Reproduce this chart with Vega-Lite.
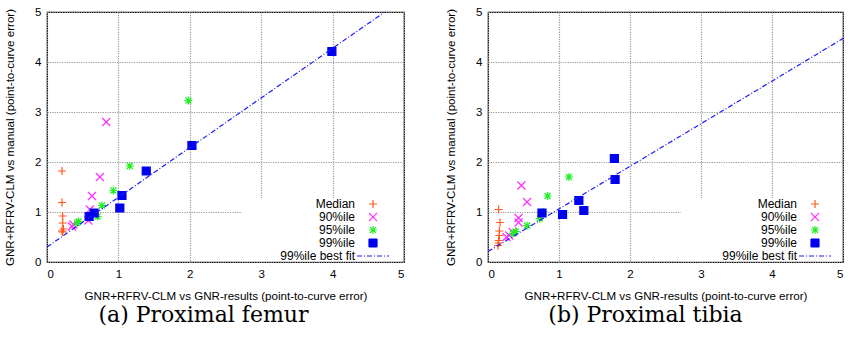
{
  "$schema": "https://vega.github.io/schema/vega-lite/v6.json",
  "padding": {"left": 4, "top": 5, "right": 0, "bottom": 0},
  "background": "white",
  "config": {
    "font": "Liberation Sans",
    "view": {"stroke": "black", "strokeWidth": 1.2},
    "axis": {
      "grid": true, "gridColor": "#999999", "gridDash": [1.2, 1.2], "gridWidth": 1.2,
      "domain": false, "ticks": false,
      "labelFont": "Liberation Sans", "labelFontSize": 11.5, "labelColor": "black",
      "titleFont": "Liberation Sans", "titleFontSize": 11.6, "titleFontWeight": "normal", "titleColor": "black"
    },
    "axisX": {"labelPadding": 6, "titlePadding": 11},
    "axisY": {"labelPadding": 6, "titlePadding": 19},
    "legend": {
      "title": null, "orient": "none", "labelAlign": "right", "labelOffset": -24,
      "labelFont": "Liberation Sans", "labelFontSize": 12, "labelColor": "black",
      "rowPadding": -3, "symbolStrokeWidth": 1.2, "symbolSize": 64, "symbolOpacity": 1
    }
  },
  "datasets": {
    "femur": [
      {"gnr": 0.21, "manual": 1.82, "series": "Median"},
      {"gnr": 0.21, "manual": 1.19, "series": "Median"},
      {"gnr": 0.22, "manual": 0.92, "series": "Median"},
      {"gnr": 0.22, "manual": 0.78, "series": "Median"},
      {"gnr": 0.23, "manual": 0.66, "series": "Median"},
      {"gnr": 0.22, "manual": 0.60, "series": "Median"},
      {"gnr": 0.21, "manual": 0.62, "series": "Median"},
      {"gnr": 0.83, "manual": 2.80, "series": "90%ile"},
      {"gnr": 0.74, "manual": 1.70, "series": "90%ile"},
      {"gnr": 0.63, "manual": 1.32, "series": "90%ile"},
      {"gnr": 0.60, "manual": 1.05, "series": "90%ile"},
      {"gnr": 0.58, "manual": 0.83, "series": "90%ile"},
      {"gnr": 0.37, "manual": 0.75, "series": "90%ile"},
      {"gnr": 0.35, "manual": 0.71, "series": "90%ile"},
      {"gnr": 1.98, "manual": 3.23, "series": "95%ile"},
      {"gnr": 1.16, "manual": 1.92, "series": "95%ile"},
      {"gnr": 0.93, "manual": 1.43, "series": "95%ile"},
      {"gnr": 0.77, "manual": 1.13, "series": "95%ile"},
      {"gnr": 0.71, "manual": 0.91, "series": "95%ile"},
      {"gnr": 0.44, "manual": 0.81, "series": "95%ile"},
      {"gnr": 0.42, "manual": 0.78, "series": "95%ile"},
      {"gnr": 3.99, "manual": 4.21, "series": "99%ile"},
      {"gnr": 2.03, "manual": 2.33, "series": "99%ile"},
      {"gnr": 1.39, "manual": 1.82, "series": "99%ile"},
      {"gnr": 1.05, "manual": 1.33, "series": "99%ile"},
      {"gnr": 1.02, "manual": 1.08, "series": "99%ile"},
      {"gnr": 0.66, "manual": 0.98, "series": "99%ile"},
      {"gnr": 0.59, "manual": 0.91, "series": "99%ile"}
    ],
    "femurFit": [
      {"gnr": 0, "manual": 0.30, "series": "99%ile best fit"},
      {"gnr": 4.73, "manual": 5.0, "series": "99%ile best fit"}
    ],
    "tibia": [
      {"gnr": 0.15, "manual": 1.05, "series": "Median"},
      {"gnr": 0.17, "manual": 0.79, "series": "Median"},
      {"gnr": 0.16, "manual": 0.62, "series": "Median"},
      {"gnr": 0.16, "manual": 0.53, "series": "Median"},
      {"gnr": 0.15, "manual": 0.43, "series": "Median"},
      {"gnr": 0.14, "manual": 0.33, "series": "Median"},
      {"gnr": 0.15, "manual": 0.38, "series": "Median"},
      {"gnr": 0.47, "manual": 1.53, "series": "90%ile"},
      {"gnr": 0.55, "manual": 1.20, "series": "90%ile"},
      {"gnr": 0.43, "manual": 0.88, "series": "90%ile"},
      {"gnr": 0.43, "manual": 0.79, "series": "90%ile"},
      {"gnr": 0.35, "manual": 0.60, "series": "90%ile"},
      {"gnr": 0.26, "manual": 0.50, "series": "90%ile"},
      {"gnr": 0.30, "manual": 0.53, "series": "90%ile"},
      {"gnr": 1.14, "manual": 1.70, "series": "95%ile"},
      {"gnr": 0.84, "manual": 1.32, "series": "95%ile"},
      {"gnr": 0.78, "manual": 1.00, "series": "95%ile"},
      {"gnr": 0.73, "manual": 0.87, "series": "95%ile"},
      {"gnr": 0.55, "manual": 0.73, "series": "95%ile"},
      {"gnr": 0.39, "manual": 0.61, "series": "95%ile"},
      {"gnr": 0.35, "manual": 0.57, "series": "95%ile"},
      {"gnr": 1.78, "manual": 2.07, "series": "99%ile"},
      {"gnr": 1.79, "manual": 1.65, "series": "99%ile"},
      {"gnr": 1.28, "manual": 1.23, "series": "99%ile"},
      {"gnr": 1.35, "manual": 1.03, "series": "99%ile"},
      {"gnr": 1.05, "manual": 0.95, "series": "99%ile"},
      {"gnr": 0.76, "manual": 0.98, "series": "99%ile"}
    ],
    "tibiaFit": [
      {"gnr": 0, "manual": 0.21, "series": "99%ile best fit"},
      {"gnr": 5, "manual": 4.47, "series": "99%ile best fit"}
    ],
    "keybox": [{"box": "key"}]
  },
  "spacing": 40,
  "resolve": {
    "scale": {"shape": "independent", "stroke": "independent", "fill": "independent", "strokeDash": "independent"},
    "legend": {"shape": "independent", "stroke": "independent", "fill": "independent", "strokeDash": "independent"}
  },
  "hconcat": [
    {
      "width": 357, "height": 250,
      "title": {"text": "(a) Proximal femur", "orient": "bottom", "font": "DejaVu Serif", "fontSize": 22, "fontWeight": "normal", "color": "black", "offset": 3, "dx": -22},
      "layer": [
        {
          "data": {"name": "keybox"},
          "mark": {"type": "rect", "fill": "white", "stroke": null},
          "encoding": {
            "x": {"datum": 2.72, "type": "quantitative", "scale": {"domain": [0, 5]}, "title": "GNR+RFRV-CLM vs GNR-results (point-to-curve error)", "axis": {"values": [0, 1, 2, 3, 4, 5], "format": "d"}},
            "x2": {"datum": 4.985},
            "y": {"datum": 0.015, "type": "quantitative", "scale": {"domain": [0, 5]}, "title": "GNR+RFRV-CLM vs manual (point-to-curve error)", "axis": {"values": [0, 1, 2, 3, 4, 5], "format": "d"}},
            "y2": {"datum": 1.27}
          }
        },
        {
          "data": {"name": "femur"},
          "mark": {"type": "point", "size": 64, "strokeWidth": 1.2, "opacity": 1},
          "encoding": {
            "x": {"field": "gnr", "type": "quantitative", "scale": {"domain": [0, 5]}, "title": "GNR+RFRV-CLM vs GNR-results (point-to-curve error)"},
            "y": {"field": "manual", "type": "quantitative", "scale": {"domain": [0, 5]}, "title": "GNR+RFRV-CLM vs manual (point-to-curve error)"},
            "shape": {"field": "series", "type": "nominal", "scale": {"domain": ["Median", "90%ile", "95%ile", "99%ile", "99%ile best fit"], "range": ["M-1,0H1M0,-1V1", "M-1,-1L1,1M-1,1L1,-1", "M-1,0H1M0,-1V1M-0.75,-0.75L0.75,0.75M-0.75,0.75L0.75,-0.75", "square", "M-4,0H4"]}, "legend": {"legendX": 320, "legendY": 186}},
            "stroke": {"field": "series", "type": "nominal", "scale": {"domain": ["Median", "90%ile", "95%ile", "99%ile", "99%ile best fit"], "range": ["#ff5a1a", "#ff30ff", "#22ee22", "#0000f0", "#1a1aff"]}, "legend": {"legendX": 320, "legendY": 186}},
            "fill": {"field": "series", "type": "nominal", "scale": {"domain": ["Median", "90%ile", "95%ile", "99%ile", "99%ile best fit"], "range": ["transparent", "transparent", "transparent", "#0000f0", "transparent"]}, "legend": {"legendX": 320, "legendY": 186}}
          }
        },
        {
          "data": {"name": "femurFit"},
          "mark": {"type": "line", "strokeWidth": 1.2, "clip": true},
          "encoding": {
            "x": {"field": "gnr", "type": "quantitative", "scale": {"domain": [0, 5]}, "title": "GNR+RFRV-CLM vs GNR-results (point-to-curve error)"},
            "y": {"field": "manual", "type": "quantitative", "scale": {"domain": [0, 5]}, "title": "GNR+RFRV-CLM vs manual (point-to-curve error)"},
            "stroke": {"field": "series", "type": "nominal", "scale": {"domain": ["Median", "90%ile", "95%ile", "99%ile", "99%ile best fit"], "range": ["#ff5a1a", "#ff30ff", "#22ee22", "#0000f0", "#1a1aff"]}, "legend": {"legendX": 320, "legendY": 186}},
            "strokeDash": {"field": "series", "type": "nominal", "scale": {"domain": ["Median", "90%ile", "95%ile", "99%ile", "99%ile best fit"], "range": [[1, 0], [1, 0], [1, 0], [1, 0], [5, 2, 1, 2]]}, "legend": {"legendX": 320, "legendY": 186}}
          }
        }
      ]
    },
    {
      "width": 355, "height": 250,
      "title": {"text": "(b) Proximal tibia", "orient": "bottom", "font": "DejaVu Serif", "fontSize": 22, "fontWeight": "normal", "color": "black", "offset": 3, "dx": -20},
      "layer": [
        {
          "data": {"name": "keybox"},
          "mark": {"type": "rect", "fill": "white", "stroke": null},
          "encoding": {
            "x": {"datum": 2.72, "type": "quantitative", "scale": {"domain": [0, 5]}, "title": "GNR+RFRV-CLM vs GNR-results (point-to-curve error)", "axis": {"values": [0, 1, 2, 3, 4, 5], "format": "d"}},
            "x2": {"datum": 4.985},
            "y": {"datum": 0.015, "type": "quantitative", "scale": {"domain": [0, 5]}, "title": "GNR+RFRV-CLM vs manual (point-to-curve error)", "axis": {"values": [0, 1, 2, 3, 4, 5], "format": "d"}},
            "y2": {"datum": 1.27}
          }
        },
        {
          "data": {"name": "tibia"},
          "mark": {"type": "point", "size": 64, "strokeWidth": 1.2, "opacity": 1},
          "encoding": {
            "x": {"field": "gnr", "type": "quantitative", "scale": {"domain": [0, 5]}, "title": "GNR+RFRV-CLM vs GNR-results (point-to-curve error)"},
            "y": {"field": "manual", "type": "quantitative", "scale": {"domain": [0, 5]}, "title": "GNR+RFRV-CLM vs manual (point-to-curve error)"},
            "shape": {"field": "series", "type": "nominal", "scale": {"domain": ["Median", "90%ile", "95%ile", "99%ile", "99%ile best fit"], "range": ["M-1,0H1M0,-1V1", "M-1,-1L1,1M-1,1L1,-1", "M-1,0H1M0,-1V1M-0.75,-0.75L0.75,0.75M-0.75,0.75L0.75,-0.75", "square", "M-4,0H4"]}, "legend": {"legendX": 321, "legendY": 186}},
            "stroke": {"field": "series", "type": "nominal", "scale": {"domain": ["Median", "90%ile", "95%ile", "99%ile", "99%ile best fit"], "range": ["#ff5a1a", "#ff30ff", "#22ee22", "#0000f0", "#1a1aff"]}, "legend": {"legendX": 321, "legendY": 186}},
            "fill": {"field": "series", "type": "nominal", "scale": {"domain": ["Median", "90%ile", "95%ile", "99%ile", "99%ile best fit"], "range": ["transparent", "transparent", "transparent", "#0000f0", "transparent"]}, "legend": {"legendX": 321, "legendY": 186}}
          }
        },
        {
          "data": {"name": "tibiaFit"},
          "mark": {"type": "line", "strokeWidth": 1.2, "clip": true},
          "encoding": {
            "x": {"field": "gnr", "type": "quantitative", "scale": {"domain": [0, 5]}, "title": "GNR+RFRV-CLM vs GNR-results (point-to-curve error)"},
            "y": {"field": "manual", "type": "quantitative", "scale": {"domain": [0, 5]}, "title": "GNR+RFRV-CLM vs manual (point-to-curve error)"},
            "stroke": {"field": "series", "type": "nominal", "scale": {"domain": ["Median", "90%ile", "95%ile", "99%ile", "99%ile best fit"], "range": ["#ff5a1a", "#ff30ff", "#22ee22", "#0000f0", "#1a1aff"]}, "legend": {"legendX": 321, "legendY": 186}},
            "strokeDash": {"field": "series", "type": "nominal", "scale": {"domain": ["Median", "90%ile", "95%ile", "99%ile", "99%ile best fit"], "range": [[1, 0], [1, 0], [1, 0], [1, 0], [5, 2, 1, 2]]}, "legend": {"legendX": 321, "legendY": 186}}
          }
        }
      ]
    }
  ]
}
